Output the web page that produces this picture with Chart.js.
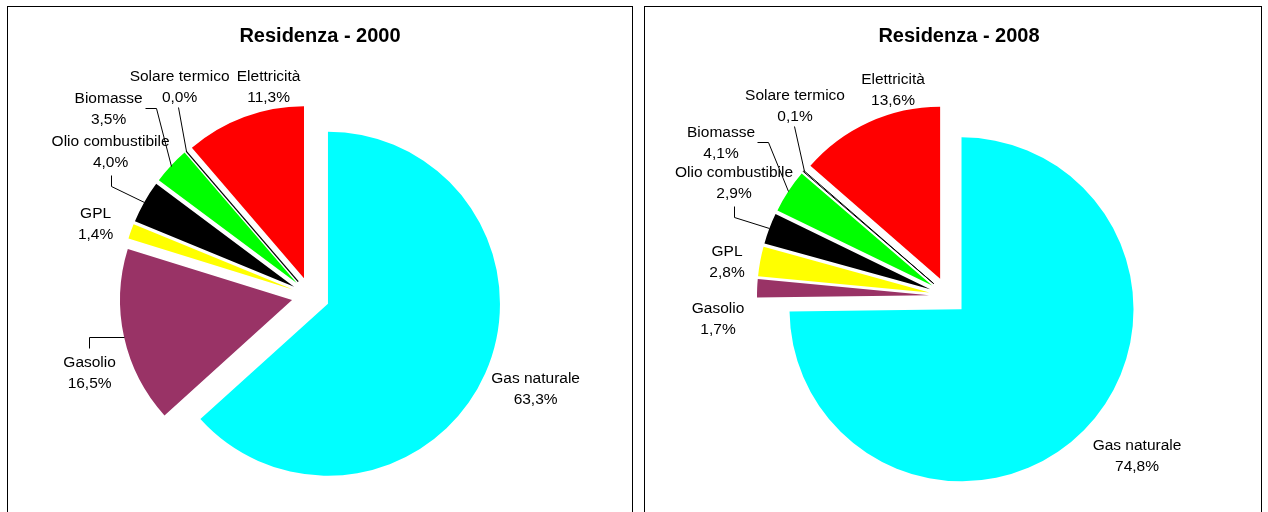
<!DOCTYPE html>
<html>
<head>
<meta charset="utf-8">
<script src="https://cdn.jsdelivr.net/npm/chart.js@4.4.1/dist/chart.umd.min.js"></script>
<style>
  body { margin: 0; background: #fff; width: 1268px; height: 512px; overflow: hidden; position: relative; }
  .panel { position: absolute; border: 1px solid #000; background: #fff; }
  .panel canvas { display: block; }
</style>
</head>
<body>
<div class="panel" style="left:7px; top:6px; width:624px; height:600px;"><canvas id="pie-2000" width="624" height="600"></canvas></div>
<div class="panel" style="left:644px; top:6px; width:616px; height:600px;"><canvas id="pie-2008" width="616" height="600"></canvas></div>
<script>
const categories = ['Gas naturale', 'Gasolio', 'GPL', 'Olio combustibile', 'Biomasse', 'Solare termico', 'Elettricità'];
const values2000 = [63.3, 16.5, 1.4, 4.0, 3.5, 0.0, 11.3];
const values2008 = [74.8, 1.7, 2.8, 2.9, 4.1, 0.1, 13.6];
const titles = ['Residenza - 2000', 'Residenza - 2008'];

const colors = ['#00ffff', '#993366', '#ffff00', '#000000', '#00ff00', '#ffffff', '#ff0000'];
const borders = [0, 0, 0, 0, 0, 1, 0];

const RADIUS = 172;
const EXPLODE = 19;
const LINE_H = 20.5;
const labelFont = '15.5px "Liberation Sans", Arial, sans-serif';
const titleFont = 'bold 20px "Liberation Sans", Arial, sans-serif';

// where Excel put each label: centre x and first baseline, relative to the pie centre
const labelPos2000 = [[225, 87], [-221, 71], [-215, -78], [-200, -150], [-202, -193], [-131, -215], [-42, -215]];
const leaders2000 = ['', 'above', '', 'below', 'right', 'direct', ''];
const labelPos2008 = [[189, 154], [-230, 17], [-221, -40], [-214, -119], [-227, -159], [-153, -196], [-55, -212]];
const leaders2008 = ['', '', '', 'below', 'right', 'direct', ''];

function fmt(v) {
    return v.toFixed(1).replace('.', ',') + '%';
}

function makeExcelPie(setup) {
    return {
        id: 'excelPie',
        afterDatasetsUpdate: function(chart) {
            // exploded pie: every slice pushed out along its bisector
            chart.getDatasetMeta(0).data.forEach(function(arc) {
                let mid = (arc.startAngle + arc.endAngle) / 2;
                arc.x += Math.cos(mid) * EXPLODE;
                arc.y += Math.sin(mid) * EXPLODE;
            });
        },
        afterDatasetsDraw: function(chart) {
            let ctx = chart.ctx;
            let area = chart.chartArea;
            let cx = (area.left + area.right) / 2;
            let cy = (area.top + area.bottom) / 2;
            let arcs = chart.getDatasetMeta(0).data;
            let values = chart.data.datasets[0].data;

            ctx.save();
            ctx.strokeStyle = '#000';
            ctx.lineWidth = 1;

            // a 0,0% slice has no area, Excel still shows its outline
            arcs.forEach(function(arc, i) {
                if (arc.endAngle - arc.startAngle === 0 && borders[i] > 0) {
                    ctx.beginPath();
                    ctx.moveTo(arc.x, arc.y);
                    ctx.lineTo(arc.x + Math.cos(arc.startAngle) * arc.outerRadius, arc.y + Math.sin(arc.startAngle) * arc.outerRadius);
                    ctx.lineWidth = 1.3;
                    ctx.stroke();
                    ctx.lineWidth = 1;
                }
            });

            ctx.font = labelFont;
            ctx.fillStyle = '#000';
            ctx.textAlign = 'center';
            ctx.textBaseline = 'alphabetic';

            arcs.forEach(function(arc, i) {
                let lx = cx + setup.labels[i][0];
                let by = cy + setup.labels[i][1];
                let name = categories[i];
                let pct = fmt(values[i]);
                ctx.fillText(name, lx, by);
                ctx.fillText(pct, lx, by + LINE_H);

                let mid = (arc.startAngle + arc.endAngle) / 2;
                let tx = arc.x + Math.cos(mid) * arc.outerRadius;
                let ty = arc.y + Math.sin(mid) * arc.outerRadius;
                let w = Math.max(ctx.measureText(name).width, ctx.measureText(pct).width);
                let mode = setup.leaders[i];
                let pts = [];
                if (mode == 'right') {
                    let sx = lx + w / 2 + 2;
                    pts = [[sx, by + 5], [sx + 11, by + 5], [tx, ty]];
                } else if (mode == 'below') {
                    let sy = by + LINE_H + 8;
                    pts = [[lx, sy], [lx, sy + 11], [tx, ty]];
                } else if (mode == 'direct') {
                    pts = [[lx - 1.5, by + LINE_H + 5], [tx, ty]];
                } else if (mode == 'above') {
                    pts = [[lx - 1, by - 19], [lx - 1, ty], [tx, ty]];
                }
                if (pts.length) {
                    ctx.beginPath();
                    ctx.moveTo(Math.round(pts[0][0]) + 0.5, Math.round(pts[0][1]) + 0.5);
                    for (let k = 1; k < pts.length; k++) {
                        ctx.lineTo(Math.round(pts[k][0]) + 0.5, Math.round(pts[k][1]) + 0.5);
                    }
                    ctx.stroke();
                }
            });

            ctx.font = titleFont;
            ctx.fillText(setup.title, setup.titleX, setup.titleY);
            ctx.restore();
        }
    };
}

function drawPie(canvasId, values, setup) {
    var canvas = document.getElementById(canvasId);
    var W = canvas.width;
    var H = canvas.height;
    return new Chart(canvas.getContext('2d'), {
        type: 'pie',
        data: {
            labels: categories,
            datasets: [{
                data: values,
                backgroundColor: colors,
                borderColor: '#000000',
                borderWidth: borders,
                radius: RADIUS
            }]
        },
        options: {
            responsive: false,
            animation: false,
            devicePixelRatio: 1,
            events: [],
            layout: {
                padding: {
                    left: 0,
                    top: 0,
                    right: W - 2 * setup.center[0],
                    bottom: H - 2 * setup.center[1]
                }
            },
            plugins: {
                legend: { display: false },
                tooltip: { enabled: false }
            }
        },
        plugins: [makeExcelPie(setup)]
    });
}

drawPie('pie-2000', values2000, {
    center: [302.6, 289],
    labels: labelPos2000,
    leaders: leaders2000,
    title: titles[0],
    titleX: 312,
    titleY: 35
});

drawPie('pie-2008', values2008, {
    center: [303, 289],
    labels: labelPos2008,
    leaders: leaders2008,
    title: titles[1],
    titleX: 314,
    titleY: 35
});
</script>
</body>
</html>
